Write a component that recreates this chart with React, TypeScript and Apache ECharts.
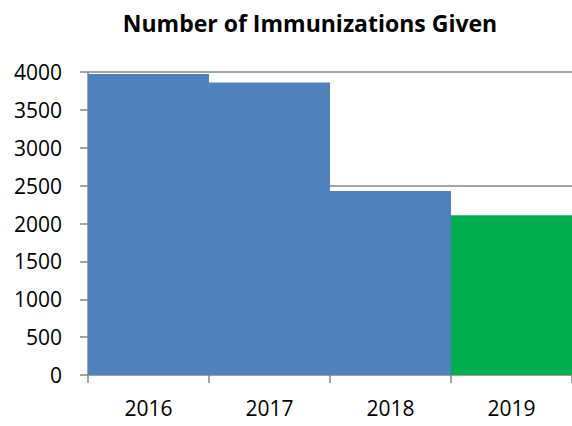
import React, { useEffect, useRef } from "react";
import * as echarts from "echarts";

const categories = ["2016", "2017", "2018", "2019"];
const values = [3975, 3860, 2430, 2110];
const barColors = ["#4F81BD", "#4F81BD", "#4F81BD", "#00B050"];
const gridLineValues = [4000, 2500, 1000];
const yMin = 0;
const yMax = 4000;
const yInterval = 500;

export default function App() {
  const ref = useRef<HTMLDivElement>(null);
  useEffect(() => {
    if (!ref.current) return;
    const chart = echarts.init(ref.current, null, { renderer: "svg" });
    const font = "'Open Sans', sans-serif";
    chart.setOption({
      animation: false,
      backgroundColor: "#ffffff",
      title: {
        text: "Number of Immunizations Given",
        left: 305,
        textAlign: "center",
        top: 6,
        textStyle: { fontFamily: font, fontWeight: "bold", fontSize: 23, color: "#000" },
      },
      grid: { left: 88, right: -3, top: 72, bottom: 51, containLabel: false },
      xAxis: {
        type: "category",
        data: categories,
        axisLine: { show: true, lineStyle: { color: "#868686", width: 1.5 } },
        axisTick: { show: true, length: 8, lineStyle: { color: "#868686", width: 1.5 } },
        axisLabel: { fontFamily: font, fontSize: 21, color: "#000", margin: 22 },
      },
      yAxis: {
        type: "value",
        min: yMin,
        max: yMax,
        interval: yInterval,
        axisLine: { show: true, lineStyle: { color: "#868686", width: 1.5 } },
        axisTick: { show: true, length: 8, lineStyle: { color: "#868686", width: 1.5 } },
        splitLine: { show: false },
        axisLabel: {
          fontFamily: font,
          fontSize: 21,
          color: "#000",
          margin: 26,
          formatter: (v: number) => String(v),
        },
      },
      series: [
        {
          type: "line",
          data: [],
          z: 1,
          silent: true,
          markLine: {
            z: 1,
            silent: true,
            symbol: "none",
            label: { show: false },
            lineStyle: { color: "#868686", width: 1.5, type: "solid" },
            data: gridLineValues.map((v) => ({ yAxis: v })),
          },
        },
        {
          type: "bar",
          z: 3,
          barCategoryGap: "0%",
          data: values.map((v, i) => ({ value: v, itemStyle: { color: barColors[i] } })),
        },
      ],
    });
    return () => chart.dispose();
  }, []);
  return (
    <div
      ref={ref}
      style={{ position: "fixed", left: 0, top: 0, width: 572, height: 426 }}
    />
  );
}
